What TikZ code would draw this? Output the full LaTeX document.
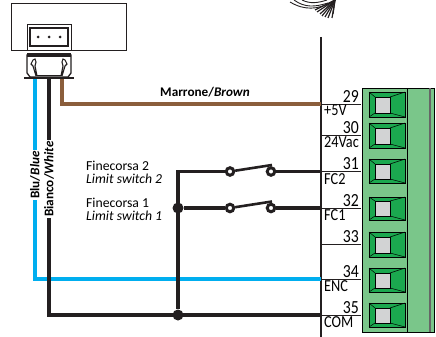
\documentclass[tikz,border=0pt]{standalone}
\usepackage{fontspec}
\setmainfont{Carlito}
\newfontfamily\pinfont[FakeStretch=0.85]{Carlito}
\definecolor{wireblue}{HTML}{00AEEF}
\definecolor{wirebrown}{HTML}{8B5E3C}
\definecolor{wireblack}{HTML}{231F20}
\definecolor{blockgreen}{HTML}{7AC68A}
\definecolor{keygreen}{HTML}{1BA84F}
\definecolor{keygrey}{HTML}{D2D3D4}
\tikzset{
  wire/.style={line width=3.2pt,draw=wireblack},
  thin line/.style={line width=0.9pt,draw=wireblack},
  strand/.style={line width=1.2pt,draw=wireblack},
  pinnum/.style={anchor=south east,inner sep=0pt,font=\pinfont\fontsize{18.5}{18.5}\selectfont},
  pinname/.style={anchor=north west,inner sep=0pt,font=\pinfont\fontsize{16.8}{16.8}\selectfont},
  smalltxt/.style={inner sep=0pt,anchor=west,font=\fontsize{13.7}{13.7}\selectfont},
  wirelabel/.style={inner sep=1pt,fill=white,rotate=90,font=\fontsize{13.2}{13.2}\selectfont\bfseries},
  contact/.style={circle,draw=wireblack,fill=white,line width=3pt,inner sep=0pt,minimum size=7.5pt},
  junction/.style={circle,fill=wireblack,inner sep=0pt,minimum size=11pt},
  key/.style={draw=black,line width=0.8pt,fill=keygreen},
  keyface/.style={draw=black,line width=0.5pt,fill=keygrey},
  bevel/.style={draw=black,line width=0.5pt}
}
\begin{document}
\begin{tikzpicture}[x=1pt,y=-1pt]
  \useasboundingbox (0,0) rectangle (436,337);

  % Board and socket
  \draw[thin line] (11,3) rectangle (126,50);
  \draw[thin line] (27,24) rectangle (71,50);
  \draw[thin line,line width=1.2pt] (30,28) rectangle (68,46);
  \fill[wireblack] (38,37) circle (1.5) (49,37) circle (1.5) (60,37) circle (1.5);

  % Plug
  \draw[line width=1.3pt,draw=wireblack,fill=white] (27,55) -- (71,55) -- (71,73) -- (68,77) -- (30,77) -- (27,73) -- cycle;
  \draw[line width=3.5pt,draw=wireblack] (27,55) -- (71,55);
  \draw[line width=1.1pt,draw=wireblack,fill=white] (36,76) -- (33,66) -- (31,64) -- (33,60) -- (35,59) -- (36,62) -- (35,66) -- (37,76);
  \draw[line width=1.1pt,draw=wireblack,fill=white] (62,76) -- (65,66) -- (67,64) -- (65,60) -- (63,59) -- (62,62) -- (63,66) -- (61,76);
  \draw[line width=1.1pt,draw=wireblack] (36,75.5) -- (62,75.5);
  \draw[line width=2.2pt,draw=wireblack] (24,78) -- (74,78);
  \coordinate (blu) at (35,79);
  \coordinate (bianco) at (49,79);
  \coordinate (marrone) at (62,79);

  % Cable bundle
  \draw[line width=0.9pt,draw=wireblack] (294,0) .. controls (305,8) and (315,7) .. (328,3);
  \draw[line width=0.9pt,draw=wireblack] (290,2) .. controls (305,11) and (318,9) .. (330,3);
  \draw[line width=0.9pt,draw=wireblack] (302,0) .. controls (310,4) and (318,3) .. (327,0);
  \draw[strand] (335,0) -- (315,10);
  \draw[strand] (335,0) -- (317,12);
  \draw[strand] (335,0) -- (320,14);
  \draw[strand] (335,0) -- (322,16);
  \draw[strand] (335,0) -- (325,17);
  \draw[strand] (335,0) -- (328,18);
  \draw[strand] (335,0) -- (332,18);
  \draw[strand] (335,0) -- (333,14);

  % Terminal block
  \draw[draw=black,line width=0.9pt,fill=blockgreen] (362,88) rectangle (434,332);
  \draw[draw=black,line width=0.7pt] (407,88) -- (407,332);
  \draw[draw=black!60,line width=1.2pt] (430,88) -- (430,332);

  % Rail
  \draw[line width=1.8pt,draw=wireblack] (321,37) -- (321,337);

  % Pin 29
  \coordinate (p29) at (321,104);
  \draw[thin line] (p29) -- (361,104);
  \node[pinnum] (n29) at (359,102.5) {29};
  \node[pinname] (l29) at (324,105) {+5V};
  \draw[key] (369,92) rectangle (405,117);
  \draw[bevel] (369,92) -- (375,97) (369,117) -- (375,113) (405,92) -- (390,97) (405,117) -- (390,113);
  \draw[keyface] (375,97) rectangle (390,113);

  % Pin 30
  \coordinate (p30) at (321,135);
  \draw[thin line] (p30) -- (361,135);
  \node[pinnum] (n30) at (359,133.5) {30};
  \node[pinname] (l30) at (324,136) {24Vac};
  \draw[key] (369,123) rectangle (405,148);
  \draw[bevel] (369,123) -- (375,128) (369,148) -- (375,144) (405,123) -- (390,128) (405,148) -- (390,144);
  \draw[keyface] (375,128) rectangle (390,144);

  % Pin 31
  \coordinate (p31) at (321,171.5);
  \draw[thin line] (p31) -- (361,171.5);
  \node[pinnum] (n31) at (359,170) {31};
  \node[pinname] (l31) at (324,173) {FC2};
  \draw[key] (369,159) rectangle (405,183);
  \draw[bevel] (369,159) -- (375,164) (369,183) -- (375,179) (405,159) -- (390,164) (405,183) -- (390,179);
  \draw[keyface] (375,164) rectangle (390,179);

  % Pin 32
  \coordinate (p32) at (321,208);
  \draw[thin line] (p32) -- (361,208);
  \node[pinnum] (n32) at (359,206.5) {32};
  \node[pinname] (l32) at (324,209) {FC1};
  \draw[key] (369,197) rectangle (405,220);
  \draw[bevel] (369,197) -- (375,201) (369,220) -- (375,216) (405,197) -- (390,201) (405,220) -- (390,216);
  \draw[keyface] (375,201) rectangle (390,216);

  % Pin 33
  \coordinate (p33) at (321,244);
  \draw[thin line] (p33) -- (361,244);
  \node[pinnum] (n33) at (359,242.5) {33};
  \draw[key] (369,232) rectangle (405,257);
  \draw[bevel] (369,232) -- (375,237) (369,257) -- (375,253) (405,232) -- (390,237) (405,257) -- (390,253);
  \draw[keyface] (375,237) rectangle (390,253);

  % Pin 34
  \coordinate (p34) at (321,279);
  \draw[thin line] (p34) -- (361,279);
  \node[pinnum] (n34) at (359,277.5) {34};
  \node[pinname] (l34) at (324,280) {ENC};
  \draw[key] (369,268) rectangle (405,292);
  \draw[bevel] (369,268) -- (375,273) (369,292) -- (375,288) (405,268) -- (390,273) (405,292) -- (390,288);
  \draw[keyface] (375,273) rectangle (390,288);

  % Pin 35
  \coordinate (p35) at (321,315);
  \draw[thin line] (p35) -- (361,315);
  \node[pinnum] (n35) at (359,313.5) {35};
  \node[pinname] (l35) at (324,316) {COM};
  \draw[key] (369,303) rectangle (405,327);
  \draw[bevel] (369,303) -- (375,308) (369,327) -- (375,323) (405,303) -- (390,308) (405,327) -- (390,323);
  \draw[keyface] (375,308) rectangle (390,323);

  % Incoming wires
  \draw[wire,draw=wirebrown] (marrone) |- (p29);
  \draw[wire,draw=wireblue] (blu) |- (p34);
  \draw[wire] (bianco) |- (p35);
  \node[wirelabel] (lblu) at (35,175) {Blu/\textit{Blue}};
  \node[wirelabel] (lbianco) at (49,179) {Bianco/\textit{White}};
  \node[inner sep=0pt,font=\fontsize{13.2}{13.2}\selectfont\bfseries] (lmarrone) at (205,92) {Marrone/\textit{Brown}};

  % Limit switches
  \coordinate (c2) at (178,171.5);
  \node[junction] (j1) at (178,208) {};
  \node[junction] (j2) at (178,315) {};
  \node[contact] (s2a) at (230,171.5) {};
  \node[contact] (s2b) at (271,171.5) {};
  \node[contact] (s1a) at (230,208) {};
  \node[contact] (s1b) at (271,208) {};
  \draw[wire] (j2) -- (c2) -- (s2a);
  \draw[wire] (s2b) -- (p31);
  \draw[wire] (j1) -- (s1a);
  \draw[wire] (s1b) -- (p32);
  \draw[wire,line width=2.6pt] (s2a) -- (272,165);
  \draw[wire,line width=2.6pt] (s1a) -- (272,201.5);
  \node[smalltxt] (f2) at (86,166) {Finecorsa 2};
  \node[smalltxt] (ls2) at (86,179) {\textit{Limit switch 2}};
  \node[smalltxt] (f1) at (86,203) {Finecorsa 1};
  \node[smalltxt] (ls1) at (86,216) {\textit{Limit switch 1}};
\end{tikzpicture}
\end{document}
